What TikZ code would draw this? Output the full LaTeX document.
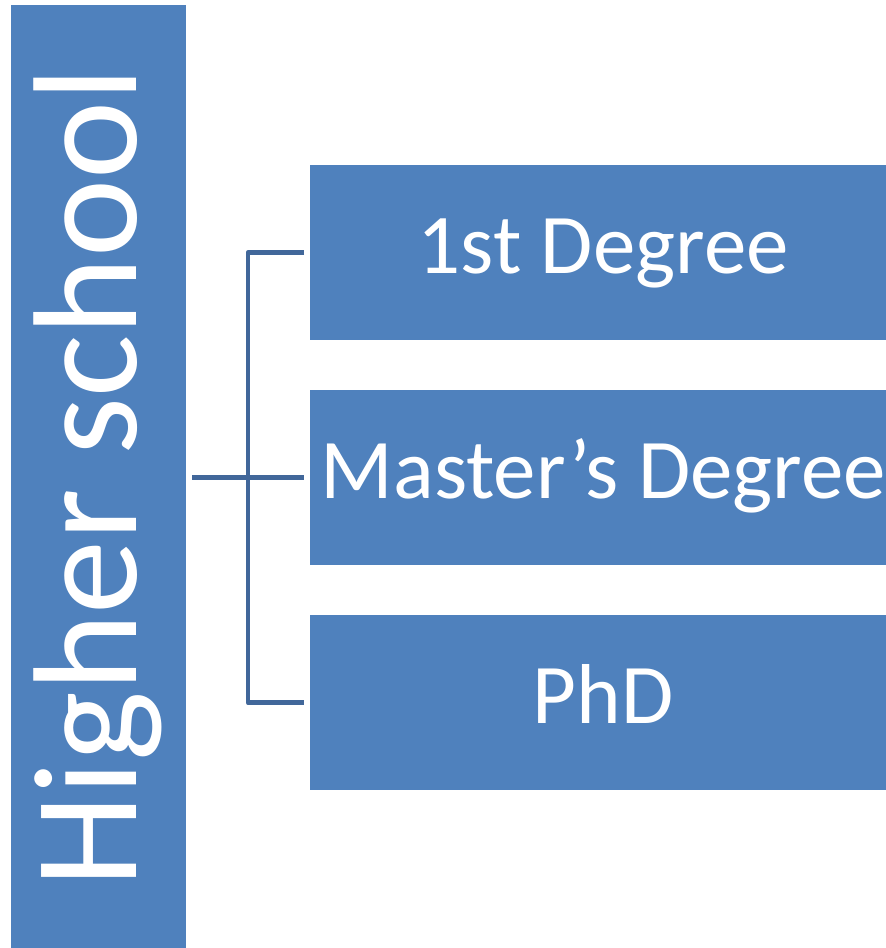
\documentclass[tikz,border=0pt]{standalone}
\usepackage{fontspec}
\setmainfont{Carlito}
\definecolor{boxblue}{HTML}{4F81BD}
\definecolor{linkblue}{HTML}{41679A}
\begin{document}
\begin{tikzpicture}[x=1pt,y=-1pt,
  blk/.style={fill=boxblue,draw=none,minimum width=576pt,minimum height=175pt,inner sep=0pt,anchor=north west},
  blktext/.style={text=white,font=\fontsize{85}{100}\selectfont,inner sep=0pt,anchor=base},
  conn/.style={draw=linkblue,line width=4.5pt,line join=round}]
\useasboundingbox (0,0) rectangle (886,948);
\fill[white] (0,0) rectangle (886,948);
\node[fill=boxblue,minimum width=175pt,minimum height=943pt,inner sep=0pt,anchor=north west] (bar) at (11,5) {};
\node[text=white,font=\fontsize{148}{170}\selectfont,rotate=90,anchor=base,inner sep=0pt] (bartext) at (136,477.5) {Higher school};
\node[blk] (d1) at (310,165) {};
\node[blk] (d2) at (310,390) {};
\node[blk] (d3) at (310,615) {};
\node[blktext] (t1) at ([xshift=5pt,yshift=-20.5pt]d1.center) {1st Degree};
\node[blktext] (t2) at ([xshift=5pt,yshift=-20.5pt]d2.center) {Master’s Degree};
\node[blktext] (t3) at ([xshift=5pt,yshift=-20.5pt]d3.center) {PhD};
\coordinate (spine) at (248,478);
\draw[conn] ([xshift=6pt]bar.east |- d2.west) -- ([xshift=-6pt]d2.west);
\draw[conn] ([xshift=-6pt]d1.west) -| (spine) |- ([xshift=-6pt]d3.west);
\end{tikzpicture}
\end{document}
